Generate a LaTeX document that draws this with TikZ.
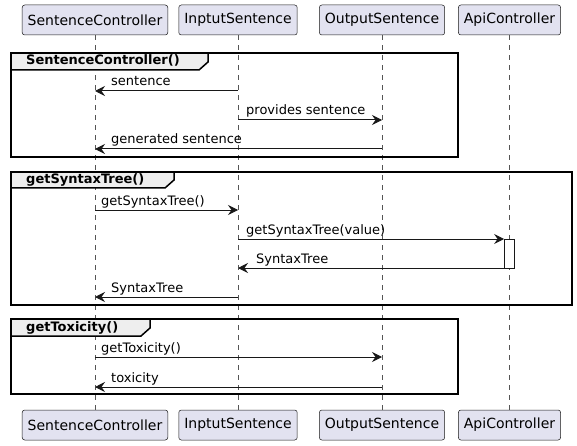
\documentclass[tikz,border=0pt]{standalone}
\usepackage{fontspec}
\setmainfont{DejaVu Sans}
\usetikzlibrary{arrows.meta}
\definecolor{partfill}{HTML}{E2E2F0}
\definecolor{partline}{HTML}{181818}
\definecolor{lifecol}{HTML}{555555}
\definecolor{tabfill}{HTML}{EEEEEE}
\tikzset{
  part/.style={draw=partline, fill=partfill, rounded corners=2.5pt, minimum height=30pt,
    inner xsep=5.5pt, inner ysep=0pt, font=\fontsize{14}{16}\selectfont, line width=0.5pt},
  life/.style={draw=lifecol, dash pattern=on 5pt off 5pt, line width=0.6pt},
  msg/.style={draw=partline, line width=1pt, -{Stealth[length=10pt,width=10pt,inset=3.5pt]}},
  lbl/.style={anchor=base west, inner sep=0pt, font=\fontsize{13}{15}\selectfont, text=black},
  frm/.style={draw=black, line width=1.5pt},
  tabshape/.style={draw=black, line width=1.5pt, fill=tabfill},
  ttl/.style={anchor=base west, inner sep=0pt, font=\bfseries\fontsize{13}{15}\selectfont},
  act/.style={draw=partline, fill=white, minimum width=10pt, minimum height=29pt, inner sep=0pt, line width=0.8pt}
}
\begin{document}
\begin{tikzpicture}[x=1pt,y=-1pt]
\useasboundingbox (0,0) rectangle (577,446);
% participants
\node[part] (sc) at (95,20) {SentenceController};
\node[part] (is) at (238,20) {InptutSentence};
\node[part] (os) at (382,20) {OutputSentence};
\node[part] (ac) at (509.5,20) {ApiController};
\node[part] (scb) at (95,425) {SentenceController};
\node[part] (isb) at (238,425) {InptutSentence};
\node[part] (osb) at (382,425) {OutputSentence};
\node[part] (acb) at (509.5,425) {ApiController};
% lifelines
\draw[life] (sc.south) -- (scb.north);
\draw[life] (is.south) -- (isb.north);
\draw[life] (os.south) -- (osb.north);
\draw[life] (ac.south) -- (acb.north);
% frames
\draw[tabshape] (11,53) -- (208,53) -- (208,62) -- (199,70) -- (11,70) -- cycle;
\draw[frm] (11,53) rectangle (458,157);
\node[ttl] (t1) at (26,65) {SentenceController()};
\draw[tabshape] (11,172) -- (174,172) -- (174,180) -- (165,188) -- (11,188) -- cycle;
\draw[frm] (11,172) rectangle (572,305);
\node[ttl] (t2) at (26,184) {getSyntaxTree()};
\draw[tabshape] (11,319) -- (150,319) -- (150,328) -- (141,336) -- (11,336) -- cycle;
\draw[frm] (11,319) rectangle (458,394);
\node[ttl] (t3) at (26,331) {getToxicity()};
% activation
\node[act] (actv) at (509.5,253.5) {};
% rows
\coordinate (r1) at (0,91);
\coordinate (r2) at (0,120);
\coordinate (r3) at (0,149);
\coordinate (r4) at (0,210);
\coordinate (r5) at (0,239);
\coordinate (r6) at (0,268);
\coordinate (r7) at (0,297);
\coordinate (r8) at (0,357);
\coordinate (r9) at (0,387);
% messages
\draw[msg] (is |- r1) -- (sc |- r1);
\node[lbl] (l1) at (111,86) {sentence};
\draw[msg] (is |- r2) -- (os |- r2);
\node[lbl] (l2) at (246,115) {provides sentence};
\draw[msg] (os |- r3) -- (sc |- r3);
\node[lbl] (l3) at (111,144) {generated sentence};
\draw[msg] (sc |- r4) -- (is |- r4);
\node[lbl] (l4) at (101,205) {getSyntaxTree()};
\draw[msg] (is |- r5) -- (actv.west |- r5);
\node[lbl] (l5) at (246,234) {getSyntaxTree(value)};
\draw[msg] (actv.west |- r6) -- (is |- r6);
\node[lbl] (l6) at (256,263) {SyntaxTree};
\draw[msg] (is |- r7) -- (sc |- r7);
\node[lbl] (l7) at (111,292) {SyntaxTree};
\draw[msg] (sc |- r8) -- (os |- r8);
\node[lbl] (l8) at (101,352) {getToxicity()};
\draw[msg] (os |- r9) -- (sc |- r9);
\node[lbl] (l9) at (111,382) {toxicity};
\end{tikzpicture}
\end{document}
